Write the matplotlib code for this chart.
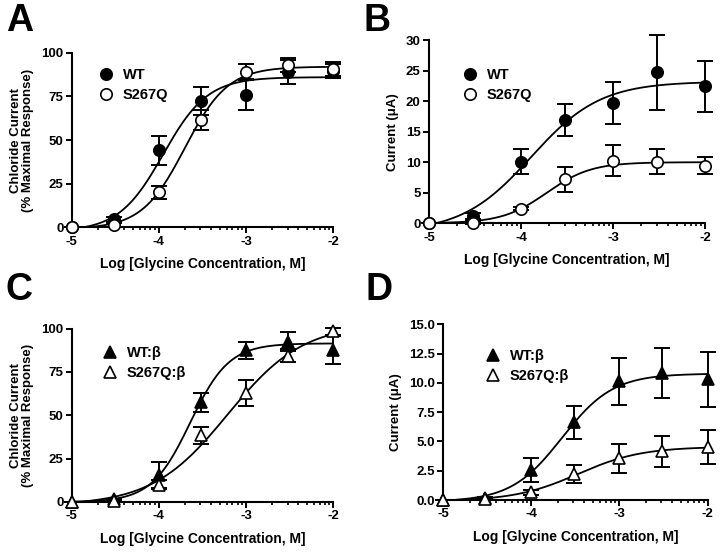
"""Glycine dose-response curves, WT vs S267Q (four panels)"""

import numpy as np
import matplotlib
matplotlib.use('Agg')
import matplotlib.pyplot as plt

plt.rcParams['font.family'] = ['Liberation Sans', 'DejaVu Sans']
plt.rcParams['font.weight'] = 'bold'
plt.rcParams['axes.unicode_minus'] = False

# log [glycine] for every data point
log_conc = [-5, -4.52, -4, -3.52, -3, -2.52, -2]

# Panel A: normalised chloride current (% maximal response)
a_wt = [0, 4.5, 44, 72.5, 76, 89, 89.7]
a_wt_err = [0, 1.5, 8.5, 8, 9, 7, 4]
a_mut = [0, 1.3, 20, 61.5, 89, 92.8, 90.5]
a_mut_err = [0, 1, 3.5, 5.5, 4.5, 4, 4]

# Panel B: current (uA)
b_wt = [0, 1.2, 10.1, 16.9, 19.7, 24.7, 22.4]
b_wt_err = [0, 0.5, 2, 2.6, 3.5, 6.1, 4.2]
b_mut = [0, 0.1, 2.4, 7.2, 10.25, 10.1, 9.45]
b_mut_err = [0, 0.2, 0.3, 2, 2.5, 2, 1.4]

# Panel C: normalised current, beta co-expression
c_wt = [0, 1.5, 15.5, 57.5, 87.5, 92.5, 87.5]
c_wt_err = [0, 0.5, 7.5, 5.5, 5, 5.5, 8]
c_mut = [0, 0.5, 10, 38.5, 63, 84.5, 98.5]
c_mut_err = [0, 0.3, 2.5, 5, 7.5, 3.5, 2]

# Panel D: current (uA), beta co-expression
d_wt = [0, 0.15, 2.55, 6.65, 10.15, 10.85, 10.3]
d_wt_err = [0, 0.1, 1.05, 1.4, 2, 2.15, 2.35]
d_mut = [0, 0.1, 0.65, 2.2, 3.55, 4.15, 4.5]
d_mut_err = [0, 0.05, 0.2, 0.75, 1.25, 1.35, 1.45]

# Fitted Hill parameters: (bottom, top, logEC50, hill slope)
a_wt_fit = (-2.4, 86, -3.95, 1.7)
a_mut_fit = (-0.9, 92, -3.70, 1.76)
b_wt_fit = (-1.5, 23.2, -3.89, 1.15)
b_mut_fit = (0, 10.0, -3.72, 1.8)
c_wt_fit = (0, 91.5, -3.64, 1.95)
c_mut_fit = (-2.0, 103, -3.21, 1.0)
d_wt_fit = (-0.15, 10.8, -3.65, 1.5)
d_mut_fit = (-0.1, 4.55, -3.47, 1.2)

x_ticks = [-5, -4, -3, -2]
x_tick_labels = ['-5', '-4', '-3', '-2']
x_label = 'Log [Glycine Concentration, M]'


def hill(x, bottom, top, logec50, slope):
    """Four-parameter sigmoidal dose-response"""
    return bottom + (top - bottom) / (1 + 10 ** ((logec50 - x) * slope))


def draw_panel(ax, wt, wt_err, mut, mut_err, wt_fit, mut_fit, marker,
               labels, yticks, yticklabels, ylabel, legend_pos):
    """Draw one Prism-style dose-response panel"""
    xs = np.linspace(-5, -2, 300)
    for fit in (wt_fit, mut_fit):
        ax.plot(xs, hill(xs, *fit), color='black', lw=1.3, zorder=2)

    for ys, err, face, lab in ((wt, wt_err, 'black', labels[0]),
                               (mut, mut_err, 'white', labels[1])):
        ax.errorbar(log_conc, ys, yerr=err, fmt='none', ecolor='black',
                    elinewidth=1.4, capsize=5.5, capthick=1.4, zorder=3,
                    clip_on=False)
        ax.plot(log_conc, ys, linestyle='none', marker=marker, ms=8.2,
                mfc=face, mec='black', mew=1.2, zorder=4, clip_on=False,
                label=lab)

    ax.set_xlim(-5, -2)
    ax.set_ylim(yticks[0], yticks[-1])
    ax.set_xticks(x_ticks)
    ax.set_xticklabels(x_tick_labels)
    minors = [d + np.log10(k) for d in (-5, -4, -3) for k in range(2, 10)]
    ax.set_xticks(minors, minor=True)
    ax.set_yticks(yticks)
    ax.set_yticklabels(yticklabels)

    for side in ('top', 'right'):
        ax.spines[side].set_visible(False)
    for side in ('left', 'bottom'):
        ax.spines[side].set_linewidth(1.5)
    ax.tick_params(axis='both', which='major', length=4, width=1.4,
                   labelsize=9.5, pad=2)
    ax.tick_params(axis='x', which='minor', length=2.5, width=1.2)

    ax.set_xlabel(x_label, fontsize=10, fontweight='bold', labelpad=7)
    ax.set_ylabel(ylabel, fontsize=9.5, fontweight='bold', labelpad=5,
                  linespacing=1.0)

    ax.legend(loc='upper left', bbox_to_anchor=legend_pos, frameon=False,
              handlelength=0.9, handletextpad=0.7,
              borderpad=0, borderaxespad=0, labelspacing=0.4,
              prop={'weight': 'bold', 'size': 10.5})


fig = plt.figure(figsize=(7.2, 5.52), dpi=100)

ax_a = fig.add_axes([0.0996, 0.5882, 0.363, 0.3163])
ax_b = fig.add_axes([0.5958, 0.5955, 0.3833, 0.332])
ax_c = fig.add_axes([0.0996, 0.0906, 0.363, 0.314])
ax_d = fig.add_axes([0.6153, 0.0942, 0.3674, 0.318])

pct_ticks = [0, 25, 50, 75, 100]
pct_label = 'Chloride Current\n(% Maximal Response)'

draw_panel(ax_a, a_wt, a_wt_err, a_mut, a_mut_err, a_wt_fit, a_mut_fit, 'o',
           ('WT', 'S267Q'), pct_ticks, [str(t) for t in pct_ticks],
           pct_label, (0.107, 0.91))
draw_panel(ax_b, b_wt, b_wt_err, b_mut, b_mut_err, b_wt_fit, b_mut_fit, 'o',
           ('WT', 'S267Q'), [0, 5, 10, 15, 20, 25, 30],
           ['0', '5', '10', '15', '20', '25', '30'],
           'Current (\u03bcA)', (0.126, 0.845))
draw_panel(ax_c, c_wt, c_wt_err, c_mut, c_mut_err, c_wt_fit, c_mut_fit, '^',
           ('WT:\u03b2', 'S267Q:\u03b2'), pct_ticks,
           [str(t) for t in pct_ticks], pct_label, (0.1225, 0.90))
draw_panel(ax_d, d_wt, d_wt_err, d_mut, d_mut_err, d_wt_fit, d_mut_fit, '^',
           ('WT:\u03b2', 'S267Q:\u03b2'), [0, 2.5, 5, 7.5, 10, 12.5, 15],
           ['0.0', '2.5', '5.0', '7.5', '10.0', '12.5', '15.0'],
           'Current (\u03bcA)', (0.164, 0.861))

# Panel letters
for letter, x, y in (('A', 0.008, 0.995), ('B', 0.505, 0.995),
                     ('C', 0.008, 0.508), ('D', 0.508, 0.508)):
    fig.text(x, y, letter, fontsize=27, fontweight='bold', va='top', ha='left')

fig.savefig('out.png', dpi=100)
